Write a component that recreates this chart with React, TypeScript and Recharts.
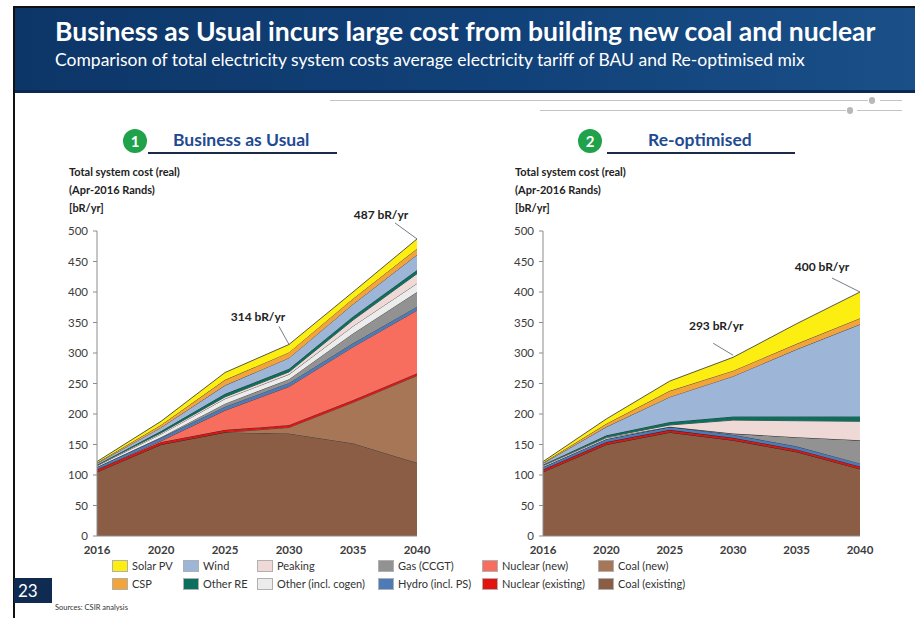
import React from "react";
import { AreaChart, Area, XAxis, YAxis, ReferenceDot } from "recharts";

const YEARS = ["2016", "2020", "2025", "2030", "2035", "2040"];
const Y_TICKS = [0, 50, 100, 150, 200, 250, 300, 350, 400, 450, 500];

// Business as Usual, bR/yr per technology
const BAU_COAL_EXISTING = [105, 150, 170, 168, 152, 120];
const BAU_COAL_NEW = [0, 0, 0, 10, 67, 143];
const BAU_NUCLEAR_EXISTING = [4, 4, 4, 4, 4, 4];
const BAU_NUCLEAR_NEW = [0, 2, 32, 63, 87, 103];
const BAU_HYDRO = [4, 5, 6, 6, 6, 6];
const BAU_GAS = [0, 1, 5, 6, 16, 24];
const BAU_OTHER = [2, 5, 8, 8, 12, 14];
const BAU_PEAKING = [1, 2, 3, 4, 10, 16];
const BAU_OTHER_RE = [1, 3, 5, 5, 6, 6];
const BAU_WIND = [2, 6, 14, 18, 20, 25];
const BAU_CSP = [1, 4, 9, 9, 9, 10];
const BAU_SOLAR = [2, 6, 12, 13, 11, 16];

// Re-optimised
const OPT_COAL_EXISTING = [105, 150, 170, 157, 138, 110];
const OPT_COAL_NEW = [0, 0, 0, 0, 0, 0];
const OPT_NUCLEAR_EXISTING = [4, 4, 4, 4, 4, 4];
const OPT_NUCLEAR_NEW = [0, 0, 0, 0, 0, 0];
const OPT_HYDRO = [4, 5, 5, 5, 5, 5];
const OPT_GAS = [0, 0, 0, 2, 15, 38];
const OPT_OTHER = [2, 2, 0, 0, 0, 0];
const OPT_PEAKING = [1, 1, 3, 22, 27, 31];
const OPT_OTHER_RE = [1, 3, 5, 6, 7, 8];
const OPT_WIND = [2, 14, 41, 66, 110, 151];
const OPT_CSP = [1, 5, 10, 9, 9, 10];
const OPT_SOLAR = [2, 8, 16, 22, 33, 43];

// stacking order, bottom first
const SERIES = [
	{ key: "coalExisting", name: "Coal (existing)", color: "#8a5d44" },
	{ key: "coalNew", name: "Coal (new)", color: "#a77657" },
	{ key: "nuclearExisting", name: "Nuclear (existing)", color: "#e3140f" },
	{ key: "nuclearNew", name: "Nuclear (new)", color: "#f76e5f" },
	{ key: "hydro", name: "Hydro (incl. PS)", color: "#4c7bb8" },
	{ key: "gas", name: "Gas (CCGT)", color: "#929292" },
	{ key: "other", name: "Other (incl. cogen)", color: "#ececec" },
	{ key: "peaking", name: "Peaking", color: "#efd9d6" },
	{ key: "otherRE", name: "Other RE", color: "#0c6e5d" },
	{ key: "wind", name: "Wind", color: "#9db6d8" },
	{ key: "csp", name: "CSP", color: "#f2a43a" },
	{ key: "solar", name: "Solar PV", color: "#fbee10" },
];

// legend layout: two rows, six columns
const LEGEND_ROWS = [
	["solar", "wind", "peaking", "gas", "nuclearNew", "coalNew"],
	["csp", "otherRE", "other", "hydro", "nuclearExisting", "coalExisting"],
];
const LEGEND_COL_X = [112, 183, 257, 378, 482, 598];

function buildRows(cols: Record<string, number[]>) {
	return YEARS.map((year, i) => {
		const row: Record<string, any> = { year };
		Object.keys(cols).forEach(k => {
			row[k] = cols[k][i];
		});
		return row;
	});
}

const bauData = buildRows({
	coalExisting: BAU_COAL_EXISTING,
	coalNew: BAU_COAL_NEW,
	nuclearExisting: BAU_NUCLEAR_EXISTING,
	nuclearNew: BAU_NUCLEAR_NEW,
	hydro: BAU_HYDRO,
	gas: BAU_GAS,
	other: BAU_OTHER,
	peaking: BAU_PEAKING,
	otherRE: BAU_OTHER_RE,
	wind: BAU_WIND,
	csp: BAU_CSP,
	solar: BAU_SOLAR,
});

const optData = buildRows({
	coalExisting: OPT_COAL_EXISTING,
	coalNew: OPT_COAL_NEW,
	nuclearExisting: OPT_NUCLEAR_EXISTING,
	nuclearNew: OPT_NUCLEAR_NEW,
	hydro: OPT_HYDRO,
	gas: OPT_GAS,
	other: OPT_OTHER,
	peaking: OPT_PEAKING,
	otherRE: OPT_OTHER_RE,
	wind: OPT_WIND,
	csp: OPT_CSP,
	solar: OPT_SOLAR,
});

const totalAt = (data: Record<string, any>[], year: string) => {
	const row = data.find(r => r.year === year)!;
	return SERIES.reduce((s, ser) => s + (row[ser.key] || 0), 0);
};

const FONT = "Lato, 'Open Sans', sans-serif";
const TICK_COLOR = "#3c3c3c";
const AXIS_COLOR = "#8c8c8c";

// callout text + leader line drawn relative to the stack top
function Callout(props: any) {
	const { cx, cy, text, tx, ty, l } = props;
	if (cx == null || cy == null) return null;
	return (
		<g>
			<line
				x1={cx + l[0]}
				y1={cy + l[1]}
				x2={cx + l[2]}
				y2={cy + l[3]}
				stroke='#6b6b7a'
				strokeWidth={0.9}
			/>
			<text
				x={cx + tx}
				y={cy + ty}
				textAnchor='middle'
				fontFamily={FONT}
				fontSize={12}
				fontWeight={700}
				fill='#222'>
				{text}
			</text>
		</g>
	);
}

type Note = { year: string; tx: number; ty: number; l: number[] };

function CostChart({
	data,
	marginRight,
	notes,
}: {
	data: Record<string, any>[];
	marginRight: number;
	notes: Note[];
}) {
	return (
		<AreaChart
			width={400}
			height={370}
			data={data}
			margin={{ top: 36, right: marginRight, bottom: 4, left: 7 }}>
			<XAxis
				dataKey='year'
				interval={0}
				height={25}
				tickLine={false}
				tickMargin={4}
				axisLine={{ stroke: AXIS_COLOR }}
				tick={{ fill: TICK_COLOR, fontSize: 11.5, fontWeight: 700, fontFamily: FONT }}
			/>
			<YAxis
				domain={[0, 500]}
				ticks={Y_TICKS}
				width={50}
				tickSize={4}
				tickMargin={5}
				axisLine={{ stroke: AXIS_COLOR }}
				tickLine={{ stroke: AXIS_COLOR }}
				tick={{ fill: TICK_COLOR, fontSize: 11.5, fontFamily: FONT }}
			/>
			{SERIES.map(s => (
				<Area
					key={s.key}
					type='linear'
					dataKey={s.key}
					name={s.name}
					stackId='cost'
					stroke='#2f2f2f'
					strokeWidth={0.8}
					fill={s.color}
					fillOpacity={1}
					dot={false}
					activeDot={false}
					isAnimationActive={false}
				/>
			))}
			{notes.map(n => {
				const total = totalAt(data, n.year);
				return (
					<ReferenceDot
						key={n.year}
						x={n.year}
						y={total}
						r={0}
						ifOverflow='visible'
						shape={(p: any) => (
							<Callout
								cx={p.cx}
								cy={p.cy}
								text={`${total} bR/yr`}
								tx={n.tx}
								ty={n.ty}
								l={n.l}
							/>
						)}
					/>
				);
			})}
		</AreaChart>
	);
}

function PanelTitle({ x, num, title, lineX1, lineX2, textX }: any) {
	return (
		<>
			<div
				style={{
					position: "absolute",
					left: x - 12,
					top: 129,
					width: 24,
					height: 24,
					borderRadius: 12,
					background: "#1fa24a",
					color: "#fff",
					fontFamily: FONT,
					fontWeight: 700,
					fontSize: 15,
					lineHeight: "24px",
					textAlign: "center",
				}}>
				{num}
			</div>
			<div
				style={{
					position: "absolute",
					left: textX,
					top: 129,
					fontFamily: FONT,
					fontWeight: 700,
					fontSize: 17.5,
					color: "#1f4b93",
					whiteSpace: "nowrap",
				}}>
				{title}
			</div>
			<div
				style={{
					position: "absolute",
					left: lineX1,
					top: 152,
					width: lineX2 - lineX1,
					height: 2,
					background: "#1b2a48",
				}}
			/>
		</>
	);
}

function AxisTitle({ x }: { x: number }) {
	const st: React.CSSProperties = {
		position: "absolute",
		left: x,
		fontFamily: FONT,
		fontWeight: 700,
		fontSize: 11,
		color: "#222",
		whiteSpace: "nowrap",
	};
	return (
		<>
			<div style={{ ...st, top: 165 }}>Total system cost (real)</div>
			<div style={{ ...st, top: 183 }}>(Apr-2016 Rands)</div>
			<div style={{ ...st, top: 201 }}>[bR/yr]</div>
		</>
	);
}

export default function App() {
	const byKey: Record<string, (typeof SERIES)[number]> = {};
	SERIES.forEach(s => (byKey[s.key] = s));

	return (
		<div
			style={{
				position: "absolute",
				left: 0,
				top: 0,
				width: 915,
				height: 618,
				background: "#fff",
				overflow: "hidden",
				fontFamily: FONT,
			}}>
			{/* slide frame */}
			<div style={{ position: "absolute", left: 13, top: 6, width: 902, height: 2, background: "#111" }} />
			<div style={{ position: "absolute", left: 13, top: 6, width: 2, height: 612, background: "#111" }} />

			{/* header band */}
			<div
				style={{
					position: "absolute",
					left: 15,
					top: 8,
					width: 900,
					height: 82,
					background: "linear-gradient(90deg, #0d3668 0%, #114179 55%, #1a4f88 100%)",
					borderBottom: "3px solid #0a2a55",
				}}
			/>
			<div
				style={{
					position: "absolute",
					left: 55,
					top: 15,
					color: "#fff",
					fontFamily: FONT,
					fontWeight: 700,
					fontSize: 26.5,
					whiteSpace: "nowrap",
				}}>
				Business as Usual incurs large cost from building new coal and nuclear
			</div>
			<div
				style={{
					position: "absolute",
					left: 55,
					top: 49,
					color: "#fff",
					fontFamily: FONT,
					fontSize: 17.5,
					whiteSpace: "nowrap",
				}}>
				Comparison of total electricity system costs average electricity tariff of BAU and Re-optimised mix
			</div>

			{/* decorative lines under header */}
			<div style={{ position: "absolute", left: 330, top: 100, width: 538, height: 1, background: "#c4c4c4" }} />
			<div style={{ position: "absolute", left: 869, top: 97, width: 6, height: 7, borderRadius: 3, background: "#b8b8b8" }} />
			<div style={{ position: "absolute", left: 880, top: 100, width: 22, height: 1, background: "#c4c4c4" }} />
			<div style={{ position: "absolute", left: 540, top: 110, width: 306, height: 1, background: "#c4c4c4" }} />
			<div style={{ position: "absolute", left: 847, top: 107, width: 6, height: 7, borderRadius: 3, background: "#b8b8b8" }} />
			<div style={{ position: "absolute", left: 857, top: 110, width: 45, height: 1, background: "#c4c4c4" }} />

			<PanelTitle x={135} num='1' title='Business as Usual' textX={173} lineX1={148} lineX2={337} />
			<PanelTitle x={590} num='2' title='Re-optimised' textX={648} lineX1={607} lineX2={795} />

			<AxisTitle x={69} />
			<AxisTitle x={515} />

			<div style={{ position: "absolute", left: 40, top: 195 }}>
				<CostChart
					data={bauData}
					marginRight={23}
					notes={[
						{ year: "2040", tx: -36, ty: -20, l: [-22, -16, 0, 0] },
						{ year: "2030", tx: -31, ty: -23, l: [-10, -18, 0, 0] },
					]}
				/>
			</div>
			<div style={{ position: "absolute", left: 486, top: 195 }}>
				<CostChart
					data={optData}
					marginRight={26}
					notes={[
						{ year: "2040", tx: -38, ty: -21, l: [-28, -14, 0, 0] },
						{ year: "2030", tx: -17, ty: -27, l: [-20, -14, 0, -2] },
					]}
				/>
			</div>

			{/* shared legend */}
			{LEGEND_ROWS.map((row, ri) =>
				row.map((key, ci) => {
					const s = byKey[key];
					return (
						<div
							key={key}
							style={{
								position: "absolute",
								left: LEGEND_COL_X[ci],
								top: 559 + ri * 18,
								display: "flex",
								alignItems: "center",
								whiteSpace: "nowrap",
							}}>
							<span
								style={{
									display: "inline-block",
									width: 16,
									height: 12,
									background: s.color,
									border: "1px solid #b0b0b0",
									boxSizing: "border-box",
								}}
							/>
							<span
								style={{
									marginLeft: 4,
									fontFamily: FONT,
									fontSize: 11,
									color: "#333",
								}}>
								{s.name}
							</span>
						</div>
					);
				}),
			)}

			{/* page number and source */}
			<div
				style={{
					position: "absolute",
					left: 14,
					top: 578,
					width: 38,
					height: 25,
					background: "#0f2b52",
					color: "#fff",
					fontFamily: FONT,
					fontSize: 17,
					lineHeight: "25px",
					paddingLeft: 4,
					boxSizing: "border-box",
				}}>
				23
			</div>
			<div
				style={{
					position: "absolute",
					left: 55,
					top: 603,
					fontFamily: FONT,
					fontSize: 7.5,
					color: "#333",
					whiteSpace: "nowrap",
				}}>
				Sources: CSIR analysis
			</div>
		</div>
	);
}
